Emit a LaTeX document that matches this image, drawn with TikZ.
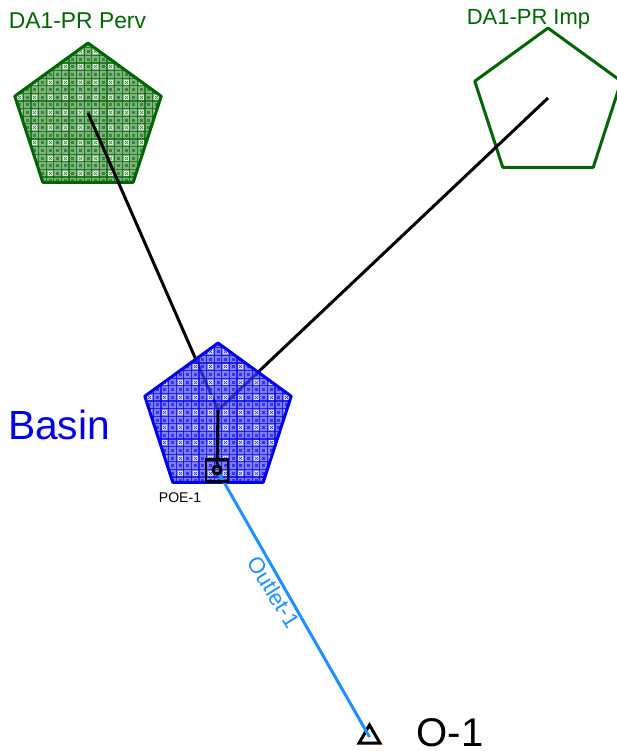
\documentclass[tikz,border=0pt]{standalone}
\usepackage{fontspec}
\setmainfont{Liberation Sans}
\usetikzlibrary{shapes.geometric}
\definecolor{basinblue}{RGB}{0,0,235}
\definecolor{subgreen}{RGB}{0,100,0}
\definecolor{outletblue}{RGB}{30,144,255}
\newcommand{\hatchcells}[2]{%
  \begin{scope}[opacity=#2]
  \fill[#1!70!white] (-100,-100) rectangle (100,100);
  \foreach \cx in {-11,...,11}
    \foreach \cy in {-11,...,11}
      \fill[#1!90!white] ({\cx*7.6-1.5},{\cy*7.6-1.5}) rectangle +(3,3);
  \foreach \cx in {-11,-9,...,11}
    \foreach \cy in {-11,-9,...,11}{
      \fill[white] ({\cx*7.6-2.5},{\cy*7.6-2.5}) rectangle +(5,5);
      \fill[#1] ({\cx*7.6-1.5},{\cy*7.6-1.5}) rectangle +(1,1);
      \fill[#1] ({\cx*7.6+.5},{\cy*7.6-1.5}) rectangle +(1,1);
      \fill[#1] ({\cx*7.6-1.5},{\cy*7.6+.5}) rectangle +(1,1);
      \fill[#1] ({\cx*7.6+.5},{\cy*7.6+.5}) rectangle +(1,1);
      \fill[#1] ({\cx*7.6-.5},{\cy*7.6-.5}) rectangle +(1,1);
    }
  \foreach \cx in {-12,...,11}{
    \draw[#1,line width=.7pt] ({(\cx+.5)*7.6},-100) -- ({(\cx+.5)*7.6},100);
    \draw[#1,line width=.7pt] (-100,{(\cx+.5)*7.6}) -- (100,{(\cx+.5)*7.6});
  }
  \end{scope}}
\tikzset{
  subbasin/.style={regular polygon, regular polygon sides=5, minimum size=3.08cm, inner sep=0pt, outer sep=0pt, line width=1.7pt, line join=round},
  link/.style={draw=black, line width=1.7pt},
  outlet/.style={draw=outletblue, line width=1.7pt},
  label/.style={inner sep=0pt}
}
\begin{document}
\begin{tikzpicture}[x=.02cm,y=-.02cm]
\useasboundingbox (0,0) rectangle (616,751);
\coordinate (pervc) at (88,113);
\coordinate (impc) at (548,98);
\coordinate (basinc) at (218,410);
\node[subbasin, draw=subgreen, path picture={\hatchcells{subgreen}{.7}}] (perv) at (88,120){};
\node[subbasin, draw=subgreen] (imp) at (548,105){};
\draw[link] (pervc) -- (basinc);
\draw[link] (impc) -- (basinc);
\node[subbasin, draw=basinblue, path picture={\hatchcells{basinblue}{.72}}] (basin) at (218,420){};
\node[circle, draw=black, line width=1.7pt, minimum size=.16cm, inner sep=0pt] (poec) at (217,470){};
\node[regular polygon, regular polygon sides=3, draw=black, line width=1.7pt, minimum size=.48cm, inner sep=0pt] (o1) at (369.5,737){};
\draw[link] (basinc) -- (poec);
\draw[outlet] (poec) -- (o1.center);
\node[draw=black, line width=1.7pt, minimum size=.44cm, inner sep=0pt] (poe) at (217,470.5){};
\node[label, subgreen, font=\fontsize{13}{13}\selectfont] (pervl) at (77.5,21){DA1-PR Perv};
\node[label, subgreen, font=\fontsize{12.5}{13}\selectfont] (impl) at (528.5,19){DA1-PR Imp};
\node[label, basinblue, font=\fontsize{23.2}{24}\selectfont] (basinl) at (59,425){Basin};
\node[label, black, font=\fontsize{8}{8}\selectfont] (poel) at (180,498){POE-1};
\node[label, outletblue, rotate=-58, font=\fontsize{12.6}{14}\selectfont] (outletl) at (274,592){Outlet-1};
\node[label, black, font=\fontsize{22.8}{23}\selectfont] (o1l) at (450,733){O-1};
\end{tikzpicture}
\end{document}
